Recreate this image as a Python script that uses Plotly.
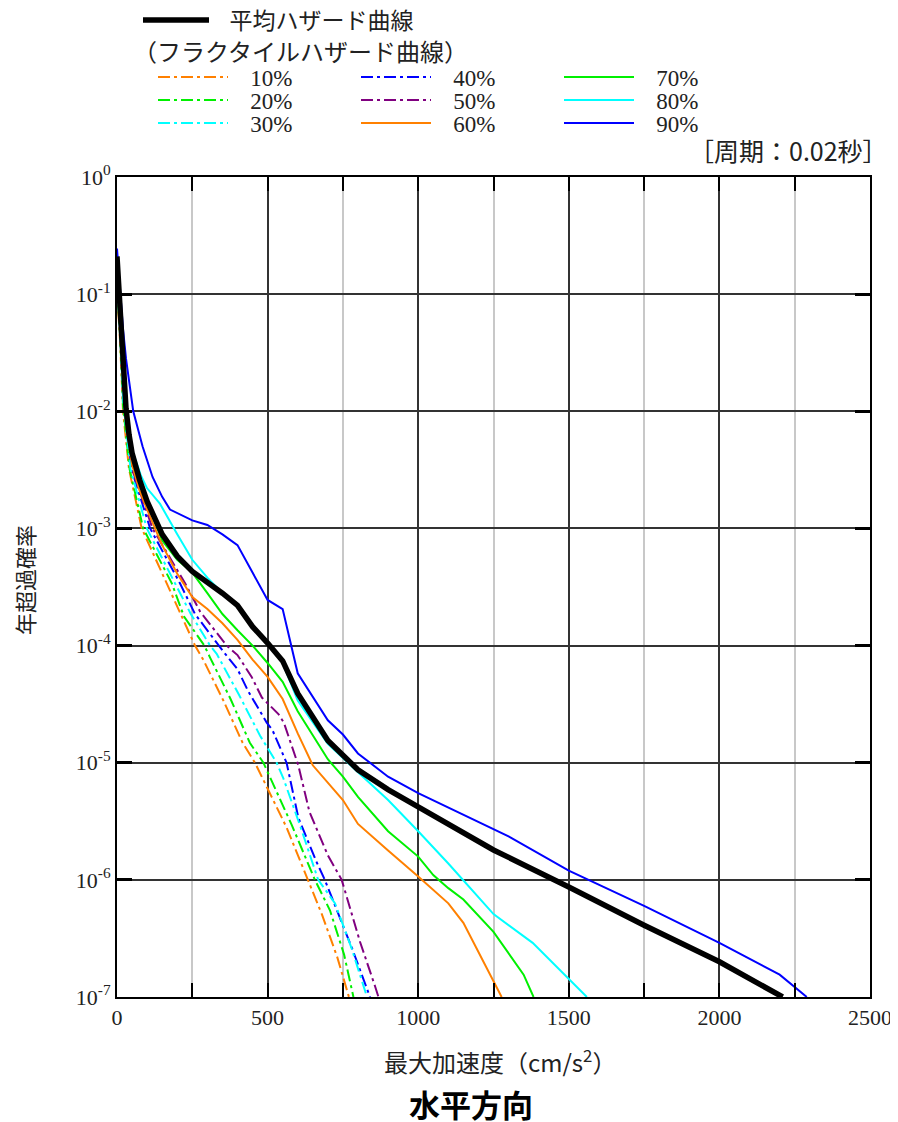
import plotly.graph_objects as go

# ---------------- data ----------------
mean_x = [0, 5, 10, 15, 20, 25, 30, 40, 50, 75, 100, 150, 200, 250, 300, 350, 400, 450, 500, 550, 600,
          700, 800, 900, 1000, 1250, 1500, 1750, 2000, 2210]
mean_y = [2.1e-1, 1.26e-1, 7.6e-2, 4.2e-2, 2.4e-2, 1.5e-2, 1.05e-2, 6.3e-3, 4.4e-3, 2.6e-3, 1.7e-3, 8.9e-4,
          5.8e-4, 4.3e-4, 3.5e-4, 2.8e-4, 2.2e-4, 1.45e-4, 1.05e-4, 7.4e-5, 3.9e-5,
          1.55e-5, 8.7e-6, 5.9e-6, 4.2e-6, 1.8e-6, 8.7e-7, 4.1e-7, 2.0e-7, 1.0e-7]

p90_x = [0, 5, 10, 20, 30, 54, 85, 118, 150, 176, 250, 300, 350, 400, 450, 500, 550, 600, 700, 750, 800,
         900, 1000, 1300, 1500, 1750, 2000, 2200, 2290]
p90_y = [2.45e-1, 1.58e-1, 1.12e-1, 5.0e-2, 2.8e-2, 1.0e-2, 5.0e-3, 2.75e-3, 1.86e-3, 1.45e-3, 1.17e-3,
         1.07e-3, 8.9e-4, 7.2e-4, 4.2e-4, 2.45e-4, 2.05e-4, 5.8e-5, 2.3e-5, 1.74e-5, 1.2e-5,
         7.6e-6, 5.5e-6, 2.35e-6, 1.2e-6, 6.0e-7, 2.9e-7, 1.55e-7, 1.0e-7]

p80_x = [0, 10, 20, 30, 50, 80, 100, 143, 200, 250, 300, 350, 400, 450, 500, 550, 600, 700, 800, 900,
         1000, 1100, 1250, 1380, 1560]
p80_y = [1.78e-1, 8.9e-2, 2.5e-2, 1.12e-2, 4.7e-3, 2.8e-3, 2.2e-3, 1.62e-3, 8.9e-4, 5.4e-4, 3.8e-4,
         2.8e-4, 2.2e-4, 1.5e-4, 1.05e-4, 7.1e-5, 3.4e-5, 1.45e-5, 8.3e-6, 4.8e-6,
         2.6e-6, 1.38e-6, 5.1e-7, 2.9e-7, 1.0e-7]

p70_x = [0, 10, 20, 30, 50, 75, 100, 150, 200, 250, 300, 350, 400, 450, 500, 550, 600, 700, 750, 800,
         900, 1000, 1050, 1100, 1150, 1250, 1350, 1383]
p70_y = [1.58e-1, 7.1e-2, 2.0e-2, 8.9e-3, 4.0e-3, 2.4e-3, 1.66e-3, 7.9e-4, 5.4e-4, 4.2e-4, 2.8e-4,
         1.86e-4, 1.35e-4, 1.0e-4, 7.1e-5, 4.9e-5, 2.75e-5, 1.07e-5, 7.6e-6, 5.1e-6,
         2.6e-6, 1.58e-6, 1.1e-6, 8.5e-7, 6.8e-7, 3.6e-7, 1.55e-7, 1.0e-7]

p60_x = [0, 10, 20, 30, 50, 75, 100, 150, 200, 250, 300, 350, 400, 450, 500, 550, 600, 650, 750, 800,
         900, 1000, 1100, 1150, 1277]
p60_y = [1.41e-1, 6.3e-2, 1.78e-2, 7.9e-3, 3.5e-3, 2.1e-3, 1.45e-3, 7.2e-4, 4.1e-4, 2.6e-4, 2.05e-4,
         1.55e-4, 1.12e-4, 7.6e-5, 5.4e-5, 3.5e-5, 1.78e-5, 9.5e-6, 4.8e-6, 3.0e-6,
         1.78e-6, 1.07e-6, 6.3e-7, 4.3e-7, 1.0e-7]

p50_x = [0, 10, 20, 30, 50, 118, 226, 276, 364, 400, 447, 481, 536, 554, 602, 639, 700, 746, 763, 807,
         857, 868]
p50_y = [1.78e-1, 6.3e-2, 1.58e-2, 8.9e-3, 3.2e-3, 1.0e-3, 3.4e-4, 1.95e-4, 1.0e-4, 8.3e-5, 5.4e-5,
         3.6e-5, 2.6e-5, 2.2e-5, 9.5e-6, 3.8e-6, 1.62e-6, 1.0e-6, 7.1e-7, 2.95e-7,
         1.23e-7, 1.0e-7]

p40_x = [0, 10, 20, 30, 48, 110, 209, 259, 336, 353, 400, 435, 497, 516, 563, 602, 661, 690, 783, 840]
p40_y = [1.58e-1, 5.6e-2, 1.41e-2, 7.9e-3, 3.2e-3, 1.0e-3, 3.4e-4, 1.86e-4, 1.0e-4, 8.9e-5, 6.3e-5,
         4.1e-5, 2.2e-5, 1.9e-5, 1.0e-5, 3.4e-6, 1.45e-6, 1.0e-6, 2.5e-7, 1.0e-7]

p30_x = [0, 10, 20, 30, 45, 99, 193, 245, 309, 331, 405, 475, 530, 552, 610, 668, 724, 779, 830]
p30_y = [1.41e-1, 5.0e-2, 1.26e-2, 7.1e-3, 3.2e-3, 1.0e-3, 3.4e-4, 1.86e-4, 1.0e-4, 8.5e-5, 3.8e-5,
         1.7e-5, 1.0e-5, 7.4e-6, 2.8e-6, 1.0e-6, 6.3e-7, 2.6e-7, 1.0e-7]

p20_x = [0, 10, 20, 30, 42, 87, 182, 222, 290, 309, 377, 441, 486, 580, 641, 657, 707, 754, 785]
p20_y = [1.26e-1, 4.5e-2, 1.12e-2, 6.3e-3, 3.2e-3, 1.0e-3, 3.4e-4, 1.78e-4, 1.0e-4, 7.9e-5, 3.5e-5,
         1.48e-5, 1.0e-5, 2.95e-6, 1.26e-6, 1.0e-6, 5.5e-7, 2.3e-7, 1.0e-7]

p10_x = [0, 10, 20, 30, 40, 82, 165, 215, 259, 286, 353, 417, 458, 563, 621, 635, 680, 731, 770]
p10_y = [1.12e-1, 4.0e-2, 1.0e-2, 5.6e-3, 3.2e-3, 1.0e-3, 3.4e-4, 1.74e-4, 1.0e-4, 7.6e-5, 3.4e-5,
         1.48e-5, 1.0e-5, 2.8e-6, 1.2e-6, 1.0e-6, 5.1e-7, 2.2e-7, 1.0e-7]

y_tick_vals = [1e-7, 1e-6, 1e-5, 1e-4, 1e-3, 1e-2, 1e-1, 1]
y_tick_text = ["10<sup>-7</sup>", "10<sup>-6</sup>", "10<sup>-5</sup>", "10<sup>-4</sup>",
               "10<sup>-3</sup>", "10<sup>-2</sup>", "10<sup>-1</sup>", "10<sup>0</sup>"]
x_tick_vals = [0, 500, 1000, 1500, 2000, 2500]
x_tick_text = ["0", "500", "1000", "1500", "2000", "2500"]

mean_label = "平均ハザード曲線"
fractile_title = "（フラクタイルハザード曲線）"
period_label = "［周期：0.02秒］"
x_title = "最大加速度（cm/s<sup>2</sup>）"
y_title = "年超過確率"
main_title = "水平方向"

# ---------------- styles ----------------
ORANGE = "#FF8000"
GREEN = "#00F000"
CYAN = "#00FFFF"
BLUE = "#0000FF"
PURPLE = "#800080"
DASHDOT = "12px,4px,3px,4px"
SERIF = "Liberation Serif, DejaVu Serif, serif"
JP = "Noto Sans CJK JP, sans-serif"
NB = "\u00a0\u00a0\u00a0"

fig = go.Figure()

# page offset of the figure div (browser body margin)
OFF = 8
W, H = 890, 1114
PLOT_L, PLOT_R, PLOT_T, PLOT_B = 117, 870, 177, 997  # in page pixels
L = PLOT_L - OFF
T = PLOT_T - OFF
R = W - (PLOT_R - OFF)
B = H - (PLOT_B - OFF)
pw, ph = W - L - R, H - T - B


def px_x(px):
    return (px - OFF - L) / pw


def px_y(py):
    return (H - B - (py - OFF)) / ph


# fractile series: each legend row holds three entries
rows = [
    ("legend2", 77, [("10%", p10_x, p10_y, ORANGE, DASHDOT),
                     ("40%", p40_x, p40_y, BLUE, DASHDOT),
                     ("70%", p70_x, p70_y, GREEN, "solid")]),
    ("legend3", 100, [("20%", p20_x, p20_y, GREEN, DASHDOT),
                      ("50%", p50_x, p50_y, PURPLE, DASHDOT),
                      ("80%", p80_x, p80_y, CYAN, "solid")]),
    ("legend4", 123, [("30%", p30_x, p30_y, CYAN, DASHDOT),
                      ("60%", p60_x, p60_y, ORANGE, "solid"),
                      ("90%", p90_x, p90_y, BLUE, "solid")]),
]
legend_layouts = {}
for leg, ypx, items in rows:
    for name, xs, ys, col, dash in items:
        fig.add_trace(go.Scatter(x=xs, y=ys, mode="lines", name=NB + name, legend=leg,
                                 line=dict(color=col, width=2, dash=dash)))
    legend_layouts[leg] = dict(x=px_x(153), y=px_y(ypx), xanchor="left", yanchor="middle",
                               orientation="h", entrywidth=118, entrywidthmode="pixels",
                               font=dict(family=SERIF, size=23, color="#222"), itemwidth=70,
                               bgcolor="rgba(0,0,0,0)")

fig.add_trace(go.Scatter(x=mean_x, y=mean_y, mode="lines", name=NB + mean_label, legend="legend",
                         line=dict(color="black", width=5.5)))

fig.update_layout(
    width=W, height=H,
    margin=dict(l=L, r=R, t=T, b=B, autoexpand=False),
    paper_bgcolor="white", plot_bgcolor="white",
    font=dict(family=SERIF, size=21, color="#222"),
    legend=dict(x=px_x(138), y=px_y(20), xanchor="left", yanchor="middle",
                font=dict(family=JP, size=23, color="#222"), itemwidth=66,
                bgcolor="rgba(0,0,0,0)"),
    showlegend=True,
    **legend_layouts,
)

fig.update_xaxes(
    range=[0, 2500], tickvals=x_tick_vals, ticktext=x_tick_text,
    showline=True, linecolor="black", linewidth=2, mirror="ticks",
    ticks="inside", ticklen=14, tickwidth=2, tickcolor="black",
    showgrid=True, gridcolor="#333", gridwidth=1.5,
    minor=dict(dtick=250, ticks="inside", ticklen=14, tickwidth=2, tickcolor="black",
               showgrid=True, gridcolor="#c8c8c8", gridwidth=1.5),
    zeroline=False, tickfont=dict(family=SERIF, size=22, color="#222"),
)
fig.update_yaxes(
    type="log", range=[-7, 0], tickvals=y_tick_vals, ticktext=y_tick_text,
    showline=True, linecolor="black", linewidth=2, mirror="ticks",
    ticks="inside", ticklen=15, tickwidth=3, tickcolor="black",
    showgrid=True, gridcolor="#333", gridwidth=1.5,
    zeroline=False, tickfont=dict(family=SERIF, size=22, color="#222"),
)

fig.add_annotation(text=fractile_title, x=px_x(131), y=px_y(50), xref="paper", yref="paper",
                   xanchor="left", yanchor="middle", showarrow=False,
                   font=dict(family=JP, size=24, color="#222"))
fig.add_annotation(text=period_label, x=px_x(890), y=px_y(150), xref="paper", yref="paper",
                   xanchor="right", yanchor="middle", showarrow=False,
                   font=dict(family=JP, size=25, color="#222"))
fig.add_annotation(text=x_title, x=px_x(500), y=px_y(1061), xref="paper", yref="paper",
                   xanchor="center", yanchor="middle", showarrow=False,
                   font=dict(family=JP, size=24, color="#222"))
fig.add_annotation(text=y_title, x=px_x(24), y=px_y(580), xref="paper", yref="paper",
                   xanchor="center", yanchor="middle", showarrow=False, textangle=-90,
                   font=dict(family=JP, size=22, color="#222"))
fig.add_annotation(text="<b>" + main_title + "</b>", x=px_x(471), y=px_y(1103), xref="paper", yref="paper",
                   xanchor="center", yanchor="middle", showarrow=False,
                   font=dict(family=JP, size=31, color="black"))

fig.write_html("out.html")
